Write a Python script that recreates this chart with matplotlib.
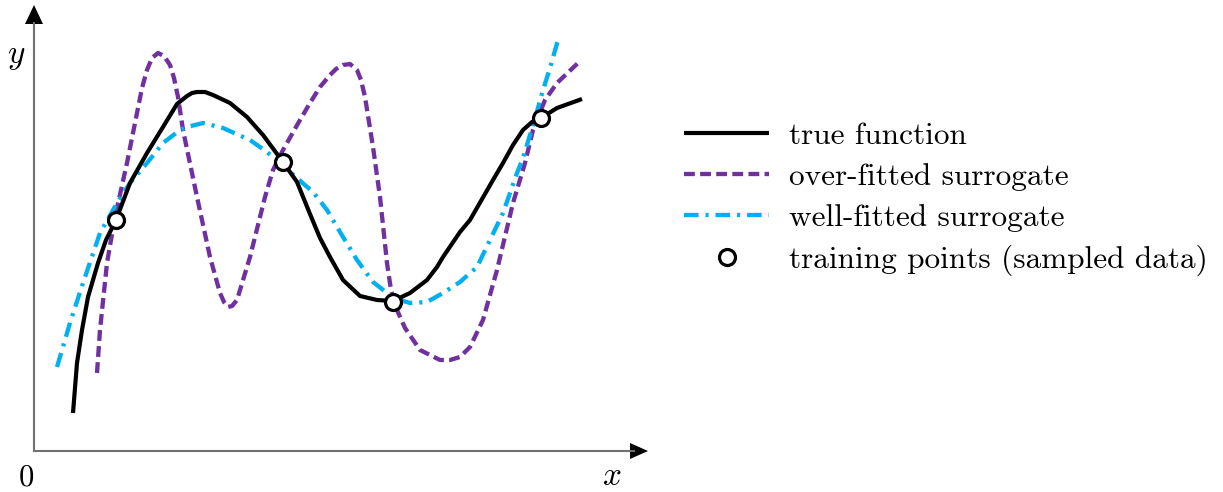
import matplotlib
matplotlib.use("Agg")
import matplotlib.pyplot as plt

plt.rcParams['font.family'] = ['cmr10', 'DejaVu Serif']
plt.rcParams['mathtext.fontset'] = 'cm'
plt.rcParams['axes.unicode_minus'] = False
plt.rcParams['lines.scale_dashes'] = False

# values (arbitrary units, origin at axes corner)
true_x = [39, 43, 48, 54, 64, 72, 82, 96, 113, 129, 143, 153, 158, 163, 171, 179, 196,
          213, 229, 249, 263, 276, 286, 296, 309, 326, 343, 359, 376, 393, 403, 409,
          426, 436, 459, 469, 479, 489, 498, 507, 523, 548]
true_y = [38, 88, 121, 154, 188, 211, 231, 268, 298, 324, 347, 355, 358, 359, 359, 356,
          348, 334, 316, 289, 269, 237, 213, 194, 171, 155, 151, 150, 158, 171, 184,
          194, 219, 231, 271, 288, 306, 321, 329, 333, 343, 352]

over_x = [63, 66, 73, 81, 93, 103, 108, 113, 118, 124, 130, 136, 140, 144, 149, 163,
          176, 186, 190, 194, 198, 203, 216, 231, 239, 249, 266, 276, 286, 296, 302,
          309, 316, 323, 327, 331, 339, 346, 353, 357, 363, 371, 386, 406, 416, 426,
          436, 449, 463, 479, 491, 499, 511, 523, 544]
over_y = [78, 121, 188, 234, 288, 338, 363, 381, 393, 398, 395, 386, 373, 354, 321, 254,
          194, 158, 149, 144, 145, 151, 194, 254, 281, 301, 331, 348, 364, 376, 382,
          386, 387, 381, 371, 354, 304, 254, 188, 161, 141, 123, 101, 91, 91, 94,
          104, 131, 181, 248, 288, 321, 351, 368, 388]

well_x = [23, 36, 49, 66, 83, 96, 113, 129, 146, 153, 169, 189, 216, 233, 256, 279,
          293, 309, 323, 339, 353, 366, 376, 393, 409, 426, 443, 456, 469, 483, 489,
          496, 502, 509, 516, 524]
well_y = [84, 128, 168, 218, 248, 268, 288, 308, 321, 324, 328, 323, 311, 299, 279, 259,
          241, 214, 191, 169, 158, 151, 148, 149, 158, 169, 184, 211, 238, 278, 293,
          316, 336, 361, 383, 411]

train_x = [82, 249, 359, 507]
train_y = [231, 289, 149, 333]

W, H = 1223, 492
fig = plt.figure(figsize=(W / 100, H / 100), dpi=100)
# axes placed so 1 data unit = 1 pixel, origin at (34, 451) px
ax = fig.add_axes([34 / W, (H - 451) / H, 616 / W, 446 / H])
ax.set_xlim(0, 616)
ax.set_ylim(0, 446)
ax.axis('off')

# axis lines with arrow heads
ax.plot([0, 600], [0, 0], color='#707070', lw=1.5, clip_on=False)
ax.plot([0, 0], [0, 428], color='#707070', lw=1.5, clip_on=False)
ax.fill([596, 614, 596], [8, 0, -8], color='black', clip_on=False, lw=0)
ax.fill([-9, 0, 9], [427, 446, 427], color='black', clip_on=False, lw=0)

l1, = ax.plot(true_x, true_y, color='black', lw=3.0, label='true function',
              solid_capstyle='butt', solid_joinstyle='round', zorder=3)
l2, = ax.plot(over_x, over_y, color='#7030A0', lw=3.1, dashes=(7.8, 3.8),
              dash_joinstyle='round', label='over-fitted surrogate', zorder=2)
l3, = ax.plot(well_x, well_y, color='#00B0F0', lw=3.1, dashes=(10.5, 5, 2.2, 5),
              dash_joinstyle='round', label='well-fitted surrogate', zorder=2)
l4, = ax.plot(train_x, train_y, 'o', ms=11.5, mfc='white', mec='black', mew=2.3,
              label='training points (sampled data)', zorder=4, clip_on=False)

ax.text(-18, 394, '$y$', fontsize=24, ha='center', va='center', clip_on=False)
ax.text(578, -25, '$x$', fontsize=24, ha='center', va='center', clip_on=False)
ax.text(-8, -27, '0', fontsize=22, ha='center', va='center', clip_on=False)

fig.legend(handles=[l1, l2, l3, l4], loc='center left',
           bbox_to_anchor=(684 / W, 1 - 199 / H), frameon=False, fontsize=22.5,
           handlelength=2.72, handletextpad=0.64, labelspacing=0.42,
           borderpad=0, borderaxespad=0)

fig.savefig('out.png', dpi=100)
